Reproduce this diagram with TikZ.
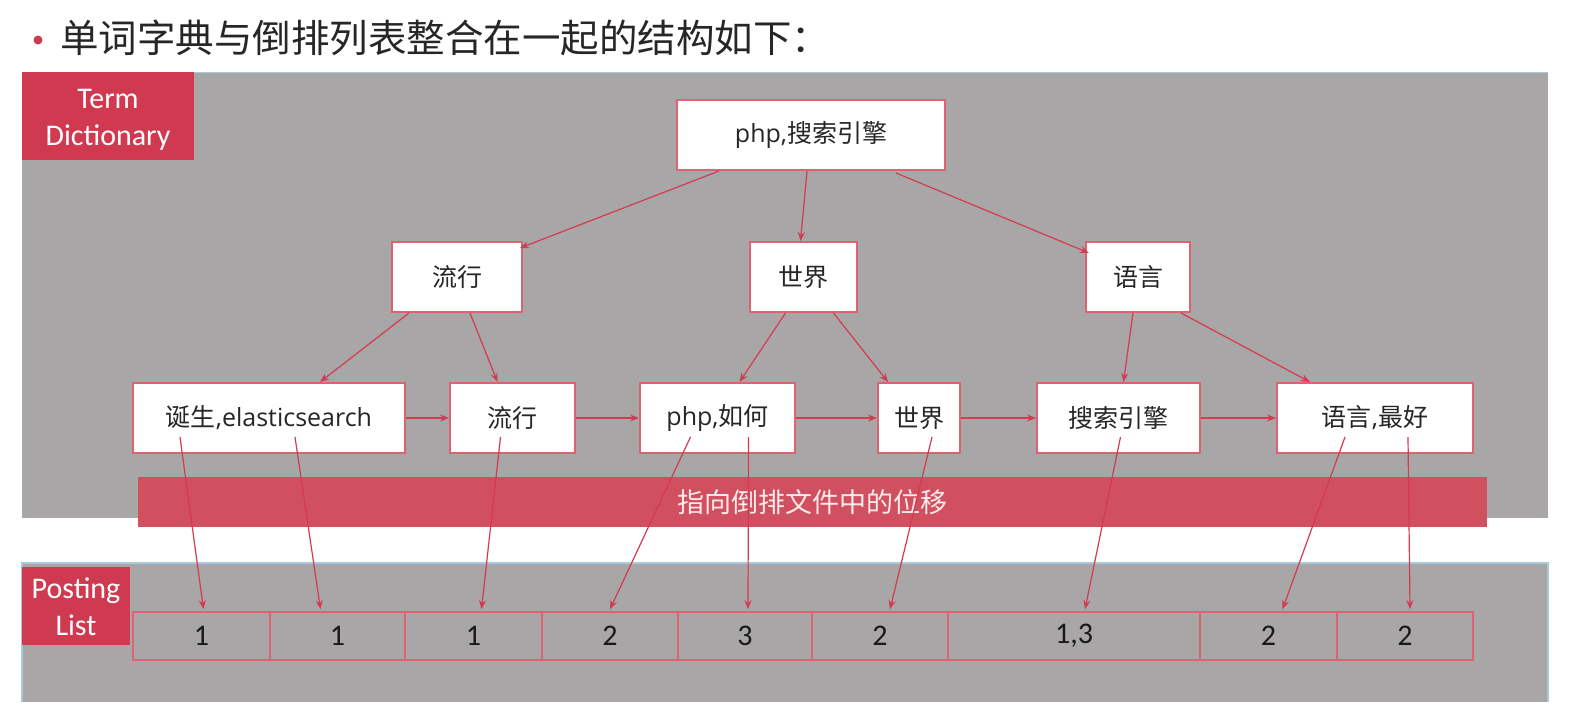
\documentclass[tikz,border=0pt]{standalone}
\usepackage{fontspec}
\setmainfont{Carlito}
\newfontfamily\cjk{Noto Sans CJK SC}
\newfontfamily\lat{Open Sans}
\usetikzlibrary{calc,arrows.meta}
\definecolor{panelgray}{HTML}{A8A6A6}
\definecolor{labelred}{HTML}{CF3A50}
\definecolor{bandred}{HTML}{D1505F}
\definecolor{boxred}{HTML}{DD6272}
\definecolor{arrred}{HTML}{D43A52}
\definecolor{edgeblue}{HTML}{A9C9DC}
\definecolor{titlegray}{HTML}{262626}
\tikzset{
  termbox/.style={draw=boxred, line width=2pt, fill=white, inner sep=0pt, minimum height=70pt, font=\lat\fontsize{25}{30}\selectfont, text=black!85},
  cellbox/.style={draw=boxred, line width=1.6pt, fill=panelgray, inner sep=0pt, minimum height=48pt, font=\fontsize{30}{32}\selectfont, text=black!90},
  arr/.style={draw=arrred, line width=1.2pt, -{Stealth[length=9pt,width=7pt]}},
  sidelabel/.style={fill=labelred, text=white, inner sep=0pt, align=center, font=\fontsize{30}{37}\selectfont},
}
\begin{document}
\begin{tikzpicture}[x=1pt,y=-1pt]
\useasboundingbox (0,0) rectangle (1575,702);
\fill[white] (0,0) rectangle (1575,702);
% title
\fill[labelred] (38,40) circle (4.5);
\node[anchor=west, inner sep=0pt, text=titlegray, font=\cjk\fontsize{38.5}{42}\selectfont] (title) at (60,38) {单词字典与倒排列表整合在一起的结构如下：};
% panels
\fill[panelgray] (22,72) rectangle (1548,518);
\draw[edgeblue, line width=1pt] (22,72) -- (1548,72);
\fill[panelgray] (22,563) rectangle (1548,702);
\draw[edgeblue, line width=1.5pt] (22,702) -- (22,563) -- (1548,563) -- (1548,702);
\fill[labelred] (22,72) rectangle (194,160);
\node[sidelabel, fill=none] (tdlabel) at (108,120) {Term\\Dictionary};
\fill[labelred] (22,567) rectangle (130,645);
\node[sidelabel, fill=none] (pllabel) at (76,607) {Posting\\List};
% band
\node[fill=bandred, inner sep=0pt, minimum width=1349pt, minimum height=50pt, text=white!92!red, font=\cjk\fontsize{27}{30}\selectfont] (band) at (812.5,502) {指向倒排文件中的位移};
% tree nodes
\node[termbox, minimum width=268pt] (root) at (811,135) {php,{\cjk 搜索引擎}};
\node[termbox, minimum width=130pt] (l1) at (457,277) {\cjk 流行};
\node[termbox, minimum width=107pt] (w1) at (803.5,277) {\cjk 世界};
\node[termbox, minimum width=104pt] (y1) at (1138,277) {\cjk 语言};
\node[termbox, minimum width=272pt] (b1) at (269,418) {{\cjk 诞生},elasticsearch};
\node[termbox, minimum width=125pt] (b2) at (512.5,418) {\cjk 流行};
\node[termbox, minimum width=155pt] (b3) at (717.5,418) {php,{\cjk 如何}};
\node[termbox, minimum width=82pt] (b4) at (919,418) {\cjk 世界};
\node[termbox, minimum width=163pt] (b5) at (1118.5,418) {\cjk 搜索引擎};
\node[termbox, minimum width=196pt] (b6) at (1375,418) {{\cjk 语言},{\cjk 最好}};
% posting cells
\node[cellbox, minimum width=137pt] (c1) at (201.5,636) {1};
\node[cellbox, minimum width=135pt] (c2) at (337.5,636) {1};
\node[cellbox, minimum width=137pt] (c3) at (473.5,636) {1};
\node[cellbox, minimum width=136pt] (c4) at (610,636) {2};
\node[cellbox, minimum width=134pt] (c5) at (745,636) {3};
\node[cellbox, minimum width=136pt] (c6) at (880,636) {2};
\node[cellbox, minimum width=252pt] (c7) at (1074,636) {1,3};
\node[cellbox, minimum width=137pt] (c8) at (1268.5,636) {2};
\node[cellbox, minimum width=136pt] (c9) at (1405,636) {2};
% tree arrows
\draw[arr] ($(root.south west)+(43,0)$) -- ($(l1.north east)+(-3,7)$);
\draw[arr] ($(root.south)+(-4,0)$) -- ($(w1.north)+(-3,0)$);
\draw[arr] ($(root.south east)+(-50,2)$) -- ($(y1.north west)+(4,12)$);
\draw[arr] ($(l1.south west)+(18,0)$) -- ($(b1.north)+(51,0)$);
\draw[arr] ($(l1.south)+(13,0)$) -- ($(b2.north)+(-15,0)$);
\draw[arr] ($(w1.south)+(-18,0)$) -- ($(b3.north)+(22,0)$);
\draw[arr] ($(w1.south)+(30,0)$) -- ($(b4.north)+(-31,0)$);
\draw[arr] ($(y1.south)+(-5,0)$) -- ($(b5.north)+(5,0)$);
\draw[arr] ($(y1.south east)+(-10,0)$) -- ($(b6.north)+(-65,0)$);
% horizontal arrows
\draw[arr] (b1.east) -- (b2.west);
\draw[arr] (b2.east) -- (b3.west);
\draw[arr] (b3.east) -- (b4.west);
\draw[arr] (b4.east) -- (b5.west);
\draw[arr] (b5.east) -- (b6.west);
% arrows to posting list
\draw[arr] ($(b1.center)+(-89,19)$) -- ($(c1.north)+(2,-2)$);
\draw[arr] ($(b1.center)+(26,19)$) -- ($(c2.north)+(-17,-2)$);
\draw[arr] ($(b2.center)+(-12,19)$) -- ($(c3.north)+(8,-2)$);
\draw[arr] ($(b3.center)+(-27,19)$) -- ($(c4.north)+(0,-2)$);
\draw[arr] ($(b3.center)+(31,19)$) -- ($(c5.north)+(3,-2)$);
\draw[arr] ($(b4.center)+(13,19)$) -- ($(c6.north)+(10,-2)$);
\draw[arr] ($(b5.center)+(2,19)$) -- ($(c7.north)+(11,-2)$);
\draw[arr] ($(b6.center)+(-30,19)$) -- ($(c8.north)+(14,-2)$);
\draw[arr] ($(b6.center)+(33,19)$) -- ($(c9.north)+(5,-2)$);
\end{tikzpicture}
\end{document}
